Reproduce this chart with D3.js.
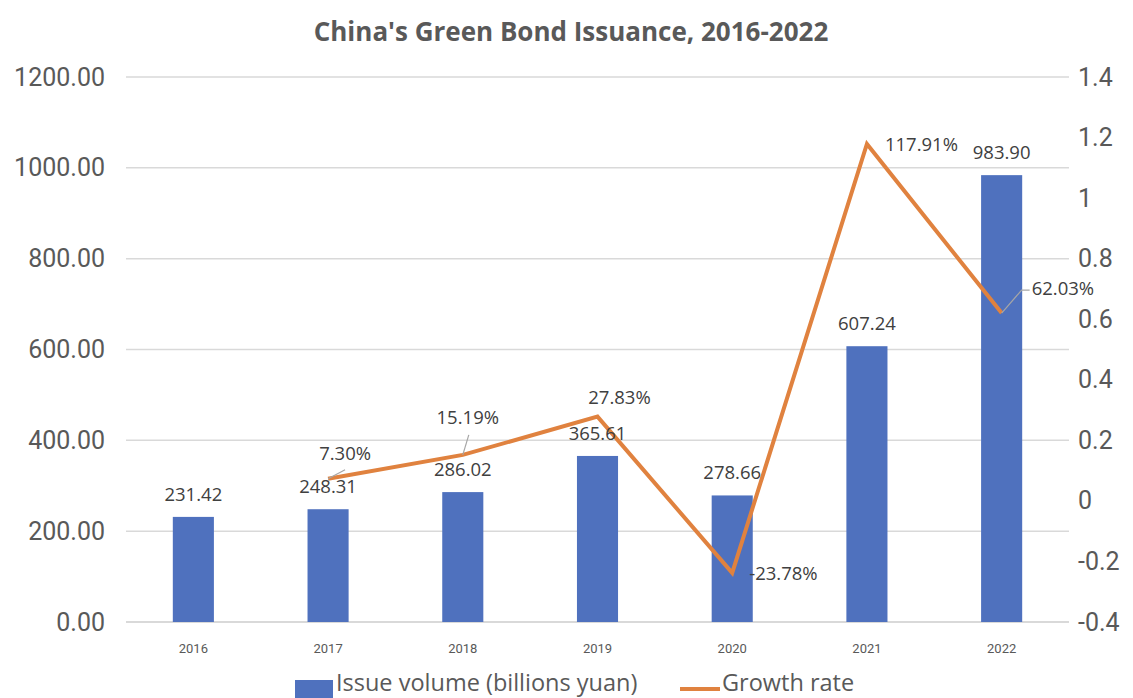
<!DOCTYPE html>
<html>
<head>
<meta charset="utf-8">
<script src="https://cdn.jsdelivr.net/npm/d3@7"></script>
<style>
  body { margin: 0; background: #fff; }
  svg { display: block; }
</style>
</head>
<body>
<div id="chart"></div>
<script>
// values
const years = ["2016", "2017", "2018", "2019", "2020", "2021", "2022"];
const issueVolume = [231.42, 248.31, 286.02, 365.61, 278.66, 607.24, 983.90];
const growthRate = [null, 0.0730, 0.1519, 0.2783, -0.2378, 1.1791, 0.6203];
const growthLabels = ["", "7.30%", "15.19%", "27.83%", "-23.78%", "117.91%", "62.03%"];
const leftTicks = [0, 200, 400, 600, 800, 1000, 1200];
const rightTicks = [-0.4, -0.2, 0, 0.2, 0.4, 0.6, 0.8, 1, 1.2, 1.4];
const rightTickLabels = ["-0.4", "-0.2", "0", "0.2", "0.4", "0.6", "0.8", "1", "1.2", "1.4"];

const width = 1133, height = 698;
const margin = {top: 77, right: 64, bottom: 76, left: 126};
const blue = "#4F71BE", orange = "#E0823F";
const axisFont = "Roboto, 'Liberation Sans', sans-serif";
const labelFont = "'Open Sans', 'Liberation Sans', sans-serif";

const svg = d3.select("#chart").append("svg")
    .attr("width", width)
    .attr("height", height);

const x = d3.scaleBand()
    .domain(years)
    .range([margin.left, width - margin.right])
    .paddingInner(0.695)
    .paddingOuter(0.3475);

const y = d3.scaleLinear()
    .domain([0, 1200])
    .range([height - margin.bottom, margin.top]);

const y2 = d3.scaleLinear()
    .domain([-0.4, 1.4])
    .range([height - margin.bottom, margin.top]);

// title
svg.append("text")
    .attr("x", 571)
    .attr("y", 41)
    .attr("text-anchor", "middle")
    .attr("font-family", labelFont)
    .attr("font-weight", 700)
    .attr("font-size", 26)
    .attr("fill", "#595959")
    .text("China's Green Bond Issuance, 2016-2022");

// gridlines
svg.append("g")
    .selectAll("line")
    .data(leftTicks)
    .join("line")
    .attr("x1", margin.left)
    .attr("x2", width - margin.right)
    .attr("y1", d => y(d))
    .attr("y2", d => y(d))
    .attr("stroke", "#D9D9D9")
    .attr("stroke-width", d => d === 0 ? 2 : 1.5);

// left axis
const leftAxis = svg.append("g")
    .attr("transform", `translate(${margin.left},0)`)
    .call(d3.axisLeft(y).tickValues(leftTicks).tickFormat(d3.format(".2f")).tickSize(0).tickPadding(21));
leftAxis.select(".domain").remove();
leftAxis.selectAll("text")
    .attr("font-family", axisFont)
    .attr("font-size", 25)
    .attr("fill", "#595959");

// right axis
const rightAxis = svg.append("g")
    .attr("transform", `translate(${width - margin.right},0)`)
    .call(d3.axisRight(y2).tickValues(rightTicks).tickFormat((d, i) => rightTickLabels[i]).tickSize(0).tickPadding(9));
rightAxis.select(".domain").remove();
rightAxis.selectAll("text")
    .attr("font-family", axisFont)
    .attr("font-size", 25)
    .attr("fill", "#595959");

// bottom axis
const bottomAxis = svg.append("g")
    .attr("transform", `translate(0,${height - margin.bottom})`)
    .call(d3.axisBottom(x).tickSize(0).tickPadding(22));
bottomAxis.select(".domain").remove();
bottomAxis.selectAll("text")
    .attr("font-family", axisFont)
    .attr("font-size", 13)
    .attr("fill", "#595959");

// bars
svg.append("g")
    .selectAll("rect")
    .data(years)
    .join("rect")
    .attr("x", d => x(d))
    .attr("y", (d, i) => y(issueVolume[i]))
    .attr("width", x.bandwidth())
    .attr("height", (d, i) => y(0) - y(issueVolume[i]))
    .attr("fill", blue);

const cx = d => x(d) + x.bandwidth() / 2;

// growth line
const pts = years.map((d, i) => ({year: d, v: growthRate[i], label: growthLabels[i]}))
    .filter(p => p.v !== null);

const line = d3.line()
    .x(p => cx(p.year))
    .y(p => y2(p.v));

svg.append("path")
    .datum(pts)
    .attr("d", line)
    .attr("fill", "none")
    .attr("stroke", orange)
    .attr("stroke-width", 4)
    .attr("stroke-linejoin", "miter");

// bar labels
svg.append("g")
    .selectAll("text")
    .data(years)
    .join("text")
    .attr("x", d => cx(d))
    .attr("y", (d, i) => y(issueVolume[i]) - 16)
    .attr("text-anchor", "middle")
    .attr("font-family", labelFont)
    .attr("font-size", 18.5)
    .attr("fill", "#404040")
    .text((d, i) => d3.format(".2f")(issueVolume[i]));

// growth labels: offsets from the point, anchor, optional leader
const labelPlace = {
    "2017": {dx: 17, dy: -19, anchor: "middle", leader: [[0, 0], [17, -9]]},
    "2018": {dx: 5, dy: -31, anchor: "middle", leader: [[0, 0], [6, -20]]},
    "2019": {dx: 22, dy: -13, anchor: "middle"},
    "2020": {dx: 17, dy: 7, anchor: "start"},
    "2021": {dx: 18, dy: 7, anchor: "start"},
    "2022": {dx: 30, dy: -18, anchor: "start", leader: [[0, 0], [20, -23], [28, -23]]}
};

const gl = svg.append("g");
pts.forEach(p => {
    const o = labelPlace[p.year];
    const px = cx(p.year), py = y2(p.v);
    if (o.leader) {
        gl.append("path")
            .attr("d", d3.line()(o.leader.map(q => [px + q[0], py + q[1]])))
            .attr("fill", "none")
            .attr("stroke", "#A6A6A6")
            .attr("stroke-width", 1.2);
    }
    gl.append("text")
        .attr("x", px + o.dx)
        .attr("y", py + o.dy)
        .attr("text-anchor", o.anchor)
        .attr("font-family", labelFont)
        .attr("font-size", 18.5)
        .attr("fill", "#404040")
        .text(p.label);
});

// legend, kept just inside the bottom edge
const lg = svg.append("g");
lg.append("rect")
    .attr("x", 295).attr("y", 680)
    .attr("width", 38).attr("height", 18)
    .attr("fill", blue);
lg.append("text")
    .attr("x", 336).attr("y", 691)
    .attr("font-family", labelFont)
    .attr("font-size", 23.5)
    .attr("fill", "#595959")
    .text("Issue volume (billions yuan)");
lg.append("line")
    .attr("x1", 680).attr("x2", 720)
    .attr("y1", 689).attr("y2", 689)
    .attr("stroke", orange)
    .attr("stroke-width", 4);
lg.append("text")
    .attr("x", 722).attr("y", 691)
    .attr("font-family", labelFont)
    .attr("font-size", 23.5)
    .attr("fill", "#595959")
    .text("Growth rate");
</script>
</body>
</html>
